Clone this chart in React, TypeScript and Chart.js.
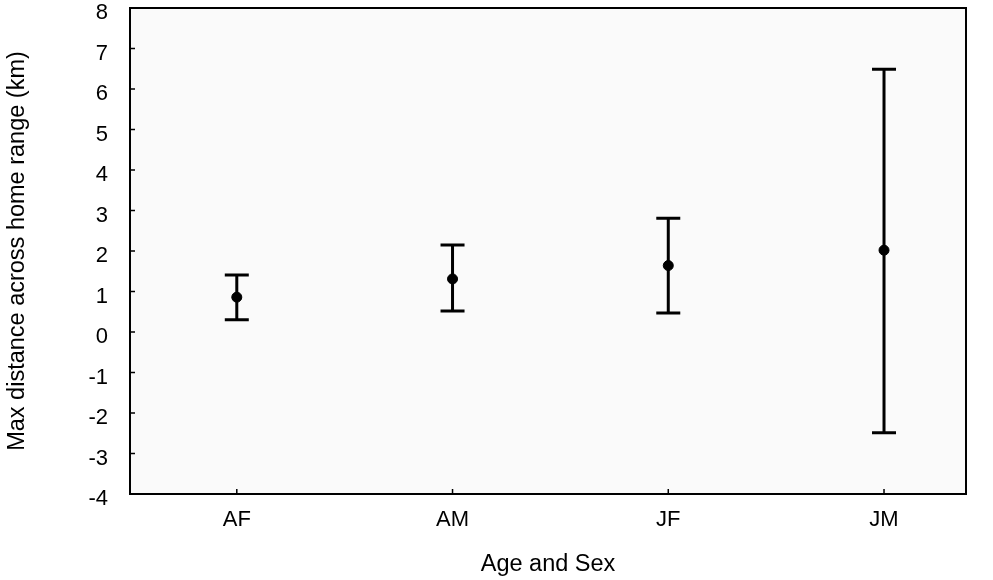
import React, { useEffect, useRef } from "react";
import { Chart, registerables } from "chart.js";

Chart.register(...registerables);

const categories = ["AF", "AM", "JF", "JM"];
const means = [0.86, 1.31, 1.64, 2.02];
const lowers = [0.3, 0.52, 0.47, -2.49];
const uppers = [1.41, 2.15, 2.81, 6.49];
const yTicks = [-4, -3, -2, -1, 0, 1, 2, 3, 4, 5, 6, 7, 8];

const FONT = "'Liberation Sans', Arial, Helvetica, sans-serif";

const framePlugin = {
  id: "frameAndBars",
  beforeDraw(chart: any) {
    const { ctx, chartArea } = chart;
    ctx.save();
    ctx.fillStyle = "#fafafa";
    ctx.fillRect(chartArea.left, chartArea.top, chartArea.right - chartArea.left, chartArea.bottom - chartArea.top);
    ctx.restore();
  },
  afterDatasetsDraw(chart: any) {
    const { ctx, chartArea, scales } = chart;
    const xs = scales.x;
    const ys = scales.y;
    ctx.save();
    ctx.strokeStyle = "#000";
    ctx.lineWidth = 3;
    ctx.lineCap = "butt";
    for (let i = 0; i < categories.length; i++) {
      const x = xs.getPixelForValue(i + 1);
      const yl = ys.getPixelForValue(lowers[i]);
      const yu = ys.getPixelForValue(uppers[i]);
      ctx.beginPath();
      ctx.moveTo(x, yl);
      ctx.lineTo(x, yu);
      ctx.moveTo(x - 12, yl);
      ctx.lineTo(x + 12, yl);
      ctx.moveTo(x - 12, yu);
      ctx.lineTo(x + 12, yu);
      ctx.stroke();
    }
    ctx.lineWidth = 2;
    ctx.strokeRect(chartArea.left, chartArea.top, chartArea.right - chartArea.left, chartArea.bottom - chartArea.top);
    ctx.lineWidth = 1.5;
    ctx.beginPath();
    for (const t of yTicks) {
      const y = ys.getPixelForValue(t);
      ctx.moveTo(chartArea.left, y);
      ctx.lineTo(chartArea.left + 5, y);
    }
    for (let i = 0; i < categories.length; i++) {
      const x = xs.getPixelForValue(i + 1);
      ctx.moveTo(x, chartArea.bottom);
      ctx.lineTo(x, chartArea.bottom - 5);
    }
    ctx.stroke();
    ctx.restore();
  },
};

export default function App() {
  const ref = useRef<HTMLCanvasElement>(null);
  useEffect(() => {
    if (!ref.current) return;
    const chart = new Chart(ref.current, {
      type: "scatter",
      data: {
        datasets: [
          {
            data: means.map((m, i) => ({ x: i + 1, y: m })),
            backgroundColor: "#000",
            borderColor: "#000",
            pointRadius: 5,
            pointHoverRadius: 5,
          },
        ],
      },
      options: {
        animation: false,
        responsive: false,
        maintainAspectRatio: false,
        layout: { padding: { top: 8, right: 27, left: 0, bottom: 0 } },
        plugins: { legend: { display: false }, tooltip: { enabled: false } },
        scales: {
          x: {
            type: "linear",
            min: 0.505,
            max: 4.38,
            grid: { display: false, drawTicks: false },
            border: { display: false },
            afterBuildTicks: (s: any) => {
              s.ticks = categories.map((_, i) => ({ value: i + 1 }));
            },
            afterFit: (s: any) => {
              s.height = 86;
              s.paddingLeft = 0;
              s.paddingRight = 0;
            },
            ticks: {
              autoSkip: false,
              maxRotation: 0,
              padding: 13,
              color: "#000",
              font: { family: FONT, size: 22 },
              callback: (v: any) => categories[Math.round(Number(v)) - 1] ?? "",
            },
            title: {
              display: true,
              text: "Age and Sex",
              color: "#000",
              font: { family: FONT, size: 23.5 },
              padding: { top: 2, bottom: 1 },
            },
          },
          y: {
            min: -4,
            max: 8,
            grid: { display: false, drawTicks: false },
            border: { display: false },
            afterBuildTicks: (s: any) => {
              s.ticks = yTicks.map((v) => ({ value: v }));
            },
            afterFit: (s: any) => {
              s.width = 130;
              s.paddingTop = 0;
              s.paddingBottom = 0;
            },
            ticks: {
              padding: 22,
              labelOffset: 5,
              color: "#000",
              font: { family: FONT, size: 22 },
              callback: (v: any) => String(v),
            },
            title: {
              display: true,
              text: "Max distance across home range (km)",
              color: "#000",
              font: { family: FONT, size: 23.5 },
              padding: { top: 3, bottom: 2 },
            },
          },
        },
      },
      plugins: [framePlugin],
    });
    return () => chart.destroy();
  }, []);
  return (
    <div style={{ position: "fixed", left: 0, top: 0, width: 993, height: 580, background: "#fff" }}>
      <canvas ref={ref} width={993} height={580} style={{ width: 993, height: 580 }} />
    </div>
  );
}
